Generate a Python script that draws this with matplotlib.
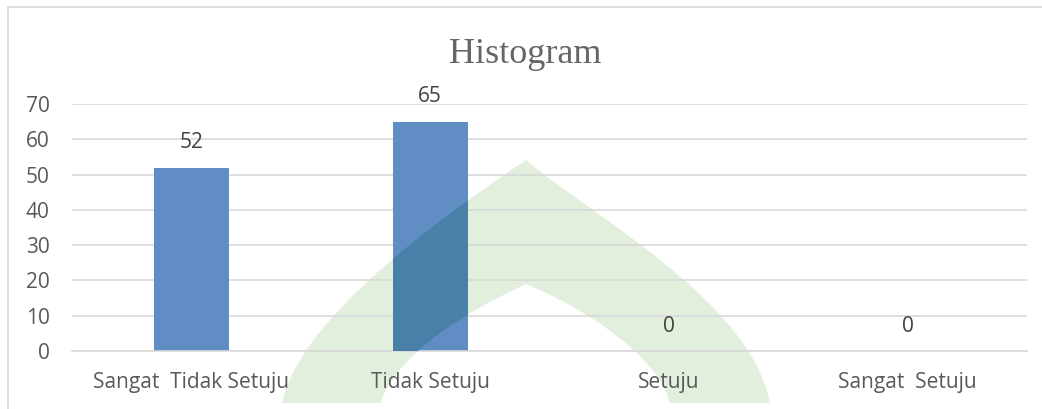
import matplotlib
matplotlib.use("Agg")
import matplotlib.pyplot as plt
from matplotlib.patches import PathPatch, Rectangle
from matplotlib.path import Path

categories = ["Sangat  Tidak Setuju", "Tidak Setuju", "Setuju", "Sangat  Setuju"]
values = [52, 65, 0, 0]
y_ticks = [0, 10, 20, 30, 40, 50, 60, 70]

W, H = 1042, 409
fig = plt.figure(figsize=(W / 100, H / 100), dpi=100)
fig.patch.set_facecolor("white")

def fx(x):
    return x / W

def fy(y):
    return 1 - y / H

# chart frame (runs off the right and bottom of the picture)
fig.patches.append(Rectangle((fx(8), -0.1), 1.2, fy(7) + 0.1, transform=fig.transFigure,
                             fill=False, edgecolor="#d9d9d9", linewidth=1.2, zorder=-2))

# faint green watermark arch behind the chart (pixel coords, drawn as bezier path)
C = Path.CURVE4
arch_pts = [(282, 403),
            (300, 320), (430, 225), (526, 160),
            (590, 215), (750, 300), (770, 403),
            (670, 403),
            (660, 360), (590, 310), (526, 284),
            (470, 310), (400, 350), (380, 403),
            (282, 403)]
arch_codes = [Path.MOVETO, C, C, C, C, C, C, Path.LINETO, C, C, C, C, C, C, Path.CLOSEPOLY]
arch_path = Path([(fx(x), fy(y)) for x, y in arch_pts], arch_codes)

fig.patches.append(PathPatch(arch_path, transform=fig.transFigure,
                             facecolor="#e3efdd", edgecolor="none", zorder=-1))

ax = fig.add_axes([fx(72), fy(351), fx(1027) - fx(72), fy(104) - fy(351)])
ax.set_facecolor("none")

x = list(range(len(categories)))
bars = ax.bar(x, values, width=0.314, color="#5f8dc4", zorder=2)

# darker tint where the watermark lies over the bars
for b in bars:
    p = PathPatch(arch_path, transform=fig.transFigure,
                  facecolor="#4880a8", edgecolor="none", zorder=3)
    ax.add_patch(p)
    p.set_clip_path(b)

for xi, v in zip(x, values):
    ax.annotate(str(v), (xi, v), xytext=(0, 18), textcoords="offset points",
                ha="center", va="center", fontsize=15, color="#404040",
                family="Open Sans")

ax.set_xlim(-0.5, len(categories) - 0.5)
ax.set_ylim(0, 70)
ax.set_yticks(y_ticks)
ax.set_xticks(x)
ax.set_xticklabels(categories)
ax.yaxis.grid(True, color="#d9d9d9", linewidth=1.2, zorder=1)
ax.set_axisbelow(True)
for s in ["top", "right", "left"]:
    ax.spines[s].set_visible(False)
ax.spines["bottom"].set_color("#d9d9d9")
ax.spines["bottom"].set_linewidth(1.2)
ax.tick_params(length=0)
ax.tick_params(axis="y", pad=16)
ax.tick_params(axis="x", pad=15)
for lab in ax.get_xticklabels() + ax.get_yticklabels():
    lab.set_family("Open Sans")
    lab.set_fontsize(15)
    lab.set_color("#595959")

fig.text(fx(525), fy(63), "Histogram", ha="center", va="baseline",
         fontsize=26, color="#666666", family="Liberation Serif")

fig.savefig("out.png", dpi=100)
